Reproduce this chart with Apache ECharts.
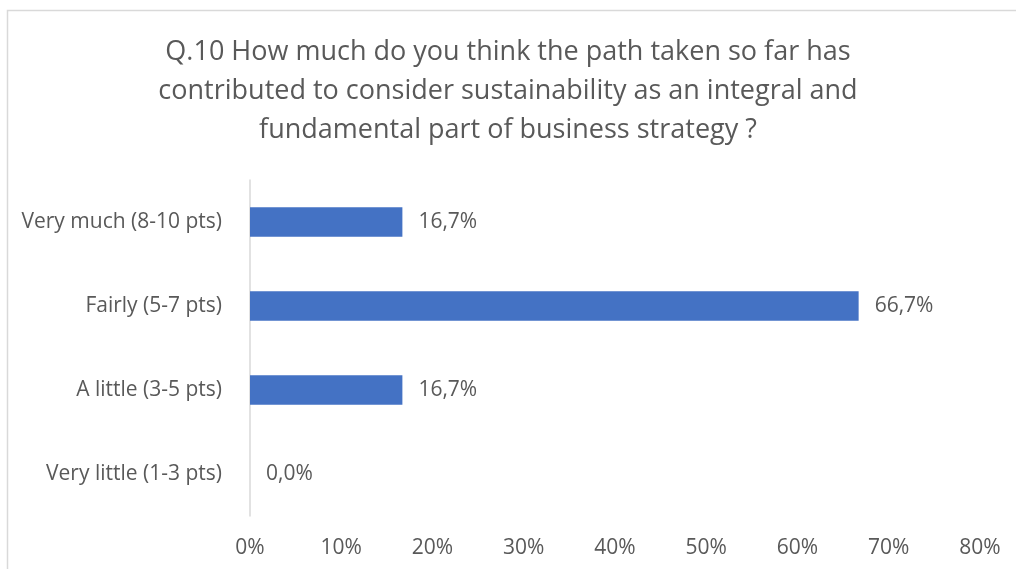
<!DOCTYPE html>
<html>
<head>
<meta charset="utf-8">
<script src="https://cdn.jsdelivr.net/npm/echarts@6/dist/echarts.min.js"></script>
<style>
  html, body { margin: 0; padding: 0; background: #ffffff; }
  #chart { width: 1016px; height: 569px; }
</style>
</head>
<body>
<div id="chart"></div>
<script>
// Survey answers, bottom to top on the category axis
const categories = ['Very little (1-3 pts)', 'A little (3-5 pts)', 'Fairly (5-7 pts)', 'Very much (8-10 pts)'];
const shares = [0.0, 16.7, 66.7, 16.7];
const tickValues = [0, 10, 20, 30, 40, 50, 60, 70, 80];
const titleLines = [
  'Q.10 How much do you think the path taken so far has',
  'contributed to consider sustainability as an integral and',
  'fundamental part of business strategy ?'
];

const FONT = '"Open Sans", "Noto Sans", sans-serif';
const TEXT = '#595959';
const LABEL_SIZE = 21;

const chart = echarts.init(document.getElementById('chart'), null, { renderer: 'canvas' });

chart.setOption({
  backgroundColor: '#ffffff',
  animation: false,
  graphic: [{
    type: 'rect',
    shape: { x: 7.5, y: 10.5, width: 1030, height: 600 },
    style: { fill: 'none', stroke: '#d9d9d9', lineWidth: 1.5 },
    silent: true
  }],
  title: {
    text: titleLines.join('\n'),
    left: 'center',
    top: 28,
    textStyle: {
      fontFamily: FONT,
      fontSize: 27,
      fontWeight: 'normal',
      color: TEXT,
      lineHeight: 39,
      align: 'center'
    }
  },
  grid: {
    left: 250,
    top: 180,
    width: 730,
    height: 336,
    containLabel: false
  },
  xAxis: {
    type: 'value',
    min: tickValues[0],
    max: tickValues[tickValues.length - 1],
    interval: 10,
    axisLine: { show: false },
    axisTick: { show: false },
    splitLine: { show: false },
    axisLabel: {
      margin: 22,
      fontFamily: FONT,
      fontSize: LABEL_SIZE,
      color: TEXT,
      formatter: v => v + '%'
    }
  },
  yAxis: {
    type: 'category',
    data: categories,
    axisLine: { show: true, lineStyle: { color: '#d9d9d9', width: 1.5 } },
    axisTick: { show: false },
    axisLabel: {
      margin: 28,
      fontFamily: FONT,
      fontSize: LABEL_SIZE,
      color: TEXT
    }
  },
  series: [{
    type: 'bar',
    data: shares,
    barWidth: 29.5,
    itemStyle: { color: '#4472c4' },
    label: {
      show: true,
      position: 'right',
      distance: 16,
      fontFamily: FONT,
      fontSize: LABEL_SIZE,
      color: TEXT,
      formatter: p => p.value.toFixed(1).replace('.', ',') + '%'
    }
  }]
});
</script>
</body>
</html>
